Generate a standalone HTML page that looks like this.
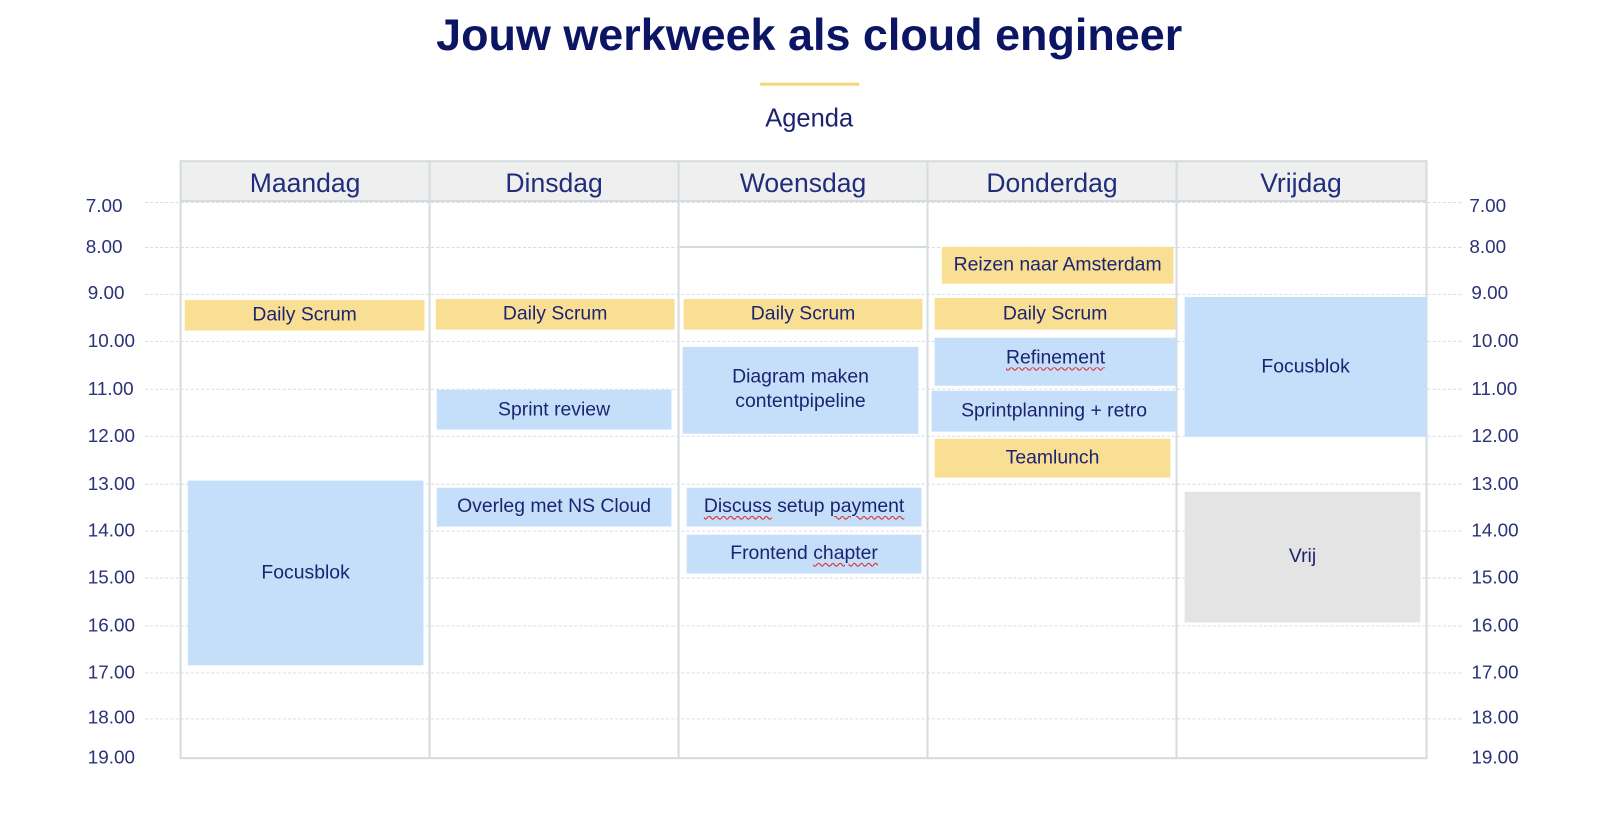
<!DOCTYPE html>
<html><head><meta charset="utf-8"><style>
body{margin:0;width:1600px;height:818px;background:#fff;position:relative;overflow:hidden;font-family:"Liberation Sans",sans-serif;color:#1c2470}
#w{position:absolute;left:0;top:0;width:1568px;height:802px;transform:scale(1.0204);transform-origin:0 0}
.a{position:absolute}
.t{position:absolute;left:0;width:1568px;text-align:center}
.hl{position:absolute;height:0;border-top:1px dashed #d9dde2}
.lbl{position:absolute;font-size:18.5px;color:#2a3278;width:60px}
.b{position:absolute;display:flex;align-items:center;justify-content:center;text-align:center;font-size:19px;line-height:24px;color:#1c2470}
.y{background:#f9df94}.bl{background:#c5def9}.g{background:#e4e4e4}
.v{position:absolute;top:157px;height:587px;width:2px;background:#d5dcdf}
.day{position:absolute;top:157px;height:40px;line-height:44px;text-align:center;font-size:26px;color:#1f2d7a;width:244px}
.u{text-decoration:underline wavy #e03030;text-decoration-thickness:1px;text-underline-offset:3px}
</style></head><body><div id="w">
<div class="t" style="top:10px;font-size:44px;font-weight:bold;color:#0c1464;left:24px;width:1538px">Jouw werkweek als cloud engineer</div>
<div class="a" style="left:745px;top:81px;width:97px;height:3px;background:#f4d77a"></div>
<div class="t" style="top:102px;font-size:25px;color:#1c2470;left:24px;width:1538px">Agenda</div>

<div class="a" style="left:177px;top:157px;width:1222px;height:40px;background:#efefef"></div>
<div class="a" style="left:177px;top:157px;width:1222px;height:2px;background:#d5dcdf"></div>
<div class="a" style="left:177px;top:196px;width:1222px;height:2px;background:#d5dcdf"></div>
<div class="a" style="left:177px;top:742px;width:1222px;height:2px;background:#d5dcdf"></div>

<div class="hl" style="left:142px;width:1290px;top:198px"></div>
<div class="hl" style="left:142px;width:1290px;top:242px"></div>
<div class="hl" style="left:142px;width:1290px;top:288px"></div>
<div class="hl" style="left:142px;width:1290px;top:334px"></div>
<div class="hl" style="left:142px;width:1290px;top:381px"></div>
<div class="hl" style="left:142px;width:1290px;top:427px"></div>
<div class="hl" style="left:142px;width:1290px;top:474px"></div>
<div class="hl" style="left:142px;width:1290px;top:520px"></div>
<div class="hl" style="left:142px;width:1290px;top:566px"></div>
<div class="hl" style="left:142px;width:1290px;top:613px"></div>
<div class="hl" style="left:142px;width:1290px;top:659px"></div>
<div class="hl" style="left:142px;width:1290px;top:704px"></div>
<div class="a" style="left:666px;top:241px;width:244px;height:2px;background:#d5dcdf"></div>

<div class="v" style="left:176px"></div><div class="v" style="left:420px"></div><div class="v" style="left:664px"></div><div class="v" style="left:908px"></div><div class="v" style="left:1152px"></div><div class="v" style="left:1397px"></div>

<div class="day" style="left:177px">Maandag</div>
<div class="day" style="left:421px">Dinsdag</div>
<div class="day" style="left:665px">Woensdag</div>
<div class="day" style="left:909px">Donderdag</div>
<div class="day" style="left:1153px">Vrijdag</div>

<div class="lbl" style="left:84px;top:191px">7.00</div><div class="lbl" style="left:1440px;top:191px">7.00</div>
<div class="lbl" style="left:84px;top:231px">8.00</div><div class="lbl" style="left:1440px;top:231px">8.00</div>
<div class="lbl" style="left:86px;top:276px">9.00</div><div class="lbl" style="left:1442px;top:276px">9.00</div>
<div class="lbl" style="left:86px;top:323px">10.00</div><div class="lbl" style="left:1442px;top:323px">10.00</div>
<div class="lbl" style="left:86px;top:370px">11.00</div><div class="lbl" style="left:1442px;top:370px">11.00</div>
<div class="lbl" style="left:86px;top:416px">12.00</div><div class="lbl" style="left:1442px;top:416px">12.00</div>
<div class="lbl" style="left:86px;top:463px">13.00</div><div class="lbl" style="left:1442px;top:463px">13.00</div>
<div class="lbl" style="left:86px;top:509px">14.00</div><div class="lbl" style="left:1442px;top:509px">14.00</div>
<div class="lbl" style="left:86px;top:555px">15.00</div><div class="lbl" style="left:1442px;top:555px">15.00</div>
<div class="lbl" style="left:86px;top:602px">16.00</div><div class="lbl" style="left:1442px;top:602px">16.00</div>
<div class="lbl" style="left:86px;top:648px">17.00</div><div class="lbl" style="left:1442px;top:648px">17.00</div>
<div class="lbl" style="left:86px;top:692px">18.00</div><div class="lbl" style="left:1442px;top:692px">18.00</div>
<div class="lbl" style="left:86px;top:731px">19.00</div><div class="lbl" style="left:1442px;top:731px">19.00</div>

<div class="b y" style="left:181px;top:294px;width:235px;height:30px">Daily Scrum</div>
<div class="b y" style="left:427px;top:293px;width:234px;height:30px">Daily Scrum</div>
<div class="b y" style="left:670px;top:293px;width:234px;height:30px">Daily Scrum</div>
<div class="b y" style="left:923px;top:242px;width:227px;height:36px">Reizen naar Amsterdam</div>
<div class="b y" style="left:916px;top:292px;width:236px;height:31px">Daily Scrum</div>
<div class="b bl" style="left:916px;top:331px;width:237px;height:47px;align-items:flex-start;padding-top:8px;box-sizing:border-box"><span class="u">Refinement</span></div>
<div class="b bl" style="left:913px;top:383px;width:240px;height:40px">Sprintplanning + retro</div>
<div class="b y" style="left:916px;top:430px;width:231px;height:38px">Teamlunch</div>
<div class="b bl" style="left:1161px;top:291px;width:237px;height:137px">Focusblok</div>
<div class="b g" style="left:1161px;top:482px;width:231px;height:128px">Vrij</div>
<div class="b bl" style="left:184px;top:471px;width:231px;height:181px">Focusblok</div>
<div class="b bl" style="left:428px;top:382px;width:230px;height:39px">Sprint review</div>
<div class="b bl" style="left:428px;top:478px;width:230px;height:38px">Overleg met NS Cloud</div>
<div class="b bl" style="left:669px;top:340px;width:231px;height:85px;align-items:flex-start;padding-top:18px;box-sizing:border-box">Diagram maken<br>contentpipeline</div>
<div class="b bl" style="left:673px;top:478px;width:230px;height:38px"><span><span class="u">Discuss</span> setup <span class="u">payment</span></span></div>
<div class="b bl" style="left:673px;top:524px;width:230px;height:38px"><span>Frontend <span class="u">chapter</span></span></div>
</div></body></html>
